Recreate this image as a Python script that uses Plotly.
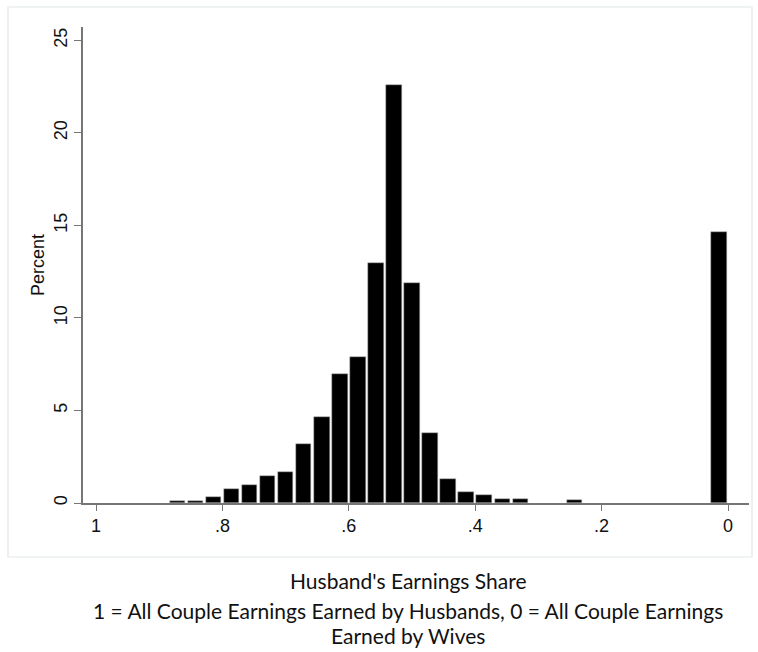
import plotly.graph_objects as go

# Histogram of husband's earnings share: 35 bins of equal width on [0, 1]
n_bins = 35
# percent in each bin, bin 0 = [0, 1/35), ..., bin 34 = [34/35, 1]
percent = [
    14.65, 0.0, 0.0, 0.0, 0.0, 0.0, 0.0, 0.0,   # bins 0-7
    0.17, 0.0, 0.0, 0.22, 0.22, 0.42, 0.62,     # bins 8-14
    1.32, 3.80, 11.90, 22.60, 12.98, 7.90,      # bins 15-20
    6.97, 4.63, 3.20, 1.69, 1.45, 0.97,         # bins 21-26
    0.73, 0.33, 0.09, 0.09, 0.0, 0.0, 0.0, 0.0  # bins 27-34
]
bin_width = 1.0 / n_bins
bin_centers = [(k + 0.5) * bin_width for k in range(n_bins)]

x_tickvals = [1, 0.8, 0.6, 0.4, 0.2, 0]
x_ticktext = ["1", ".8", ".6", ".4", ".2", "0"]
y_tickvals = [0, 5, 10, 15, 20, 25]
y_ticktext = ["0", "5", "10", "15", "20", "25"]

title_lines = [
    "Husband's Earnings Share",
    "1 = All Couple Earnings Earned by Husbands, 0 = All Couple Earnings",
    "Earned by Wives",
]

# only non-empty bins are drawn
bx = [c for c, p in zip(bin_centers, percent) if p > 0]
by = [p for p in percent if p > 0]

axis_color = "#767676"
tick_font = dict(family="Liberation Sans, Arial, sans-serif", size=18, color="#111111")

fig = go.Figure()
fig.add_trace(go.Bar(
    x=bx,
    y=by,
    width=bin_width * 0.86,
    marker=dict(color="#000000", line=dict(color="#b0b0b0", width=0.5)),
    hoverinfo="x+y",
))

W, H = 758, 652
L, R, T, B = 83, 9, 27, 149
pw, ph = W - L - R, H - T - B

def px_x(p):
    return (p - L) / pw

def px_y(p):
    return (H - B - p) / ph

fig.update_layout(
    width=W, height=H,
    margin=dict(l=L, r=R, t=T, b=B),
    paper_bgcolor="white",
    plot_bgcolor="white",
    showlegend=False,
    bargap=0,
    xaxis=dict(
        range=[1.0206, -0.0332],
        tickvals=x_tickvals, ticktext=x_ticktext,
        ticks="outside", ticklen=6, tickwidth=1.2, tickcolor=axis_color,
        showline=True, linecolor=axis_color, linewidth=1.5,
        showgrid=False, zeroline=False,
        tickfont=tick_font,
    ),
    yaxis=dict(
        range=[0, 25.72],
        tickvals=y_tickvals, ticktext=y_ticktext,
        ticks="outside", ticklen=7, tickwidth=1.2, tickcolor=axis_color,
        showline=True, linecolor=axis_color, linewidth=1.5,
        showgrid=False, zeroline=False,
        tickangle=-90,
        tickfont=tick_font,
        title=dict(text="Percent", font=dict(family="Liberation Sans, Arial, sans-serif", size=18, color="#111111"), standoff=2),
    ),
)

# light frame around the graph region
fig.add_shape(
    type="rect", xref="paper", yref="paper",
    x0=px_x(8), x1=px_x(752), y0=px_y(557), y1=px_y(7),
    line=dict(color="#e0e7ea", width=1.2), fillcolor="rgba(0,0,0,0)", layer="below",
)

line_y = [580, 610, 635]
for txt, yy in zip(title_lines, line_y):
    fig.add_annotation(
        text=txt, xref="paper", yref="paper",
        x=px_x(408), y=px_y(yy), xanchor="center", yanchor="middle",
        showarrow=False,
        font=dict(family="Lato, Carlito, Calibri, sans-serif", size=21, color="#111111"),
    )

fig.write_html(
    "out.html",
    config={"displayModeBar": False},
    post_script="document.body.style.margin='0';document.body.style.padding='0';",
)
